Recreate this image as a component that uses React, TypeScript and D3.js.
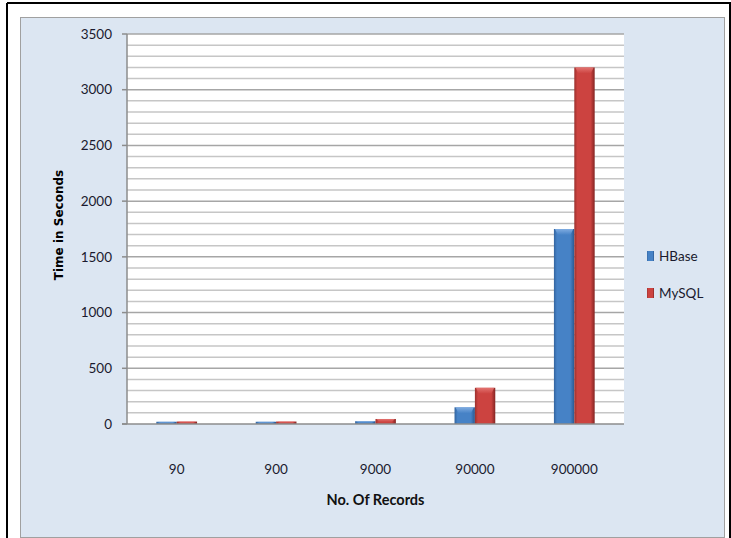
import { useEffect, useRef } from "react";
import * as d3 from "d3";

// data
const categories = ["90", "900", "9000", "90000", "900000"];
const hbase = [20, 20, 25, 150, 1750];
const mysql = [22, 22, 45, 325, 3200];
const seriesNames = ["HBase", "MySQL"];
const yTicks = [0, 500, 1000, 1500, 2000, 2500, 3000, 3500];

const W = 731;
const H = 538;

export default function App() {
  const svgRef = useRef<SVGSVGElement>(null);

  useEffect(() => {
    if (!svgRef.current) return;
    const svg = d3.select(svgRef.current);
    svg.selectAll("*").remove();

    const plot = { left: 127, right: 624, top: 34, bottom: 424 };

    // outer black frame (page cut)
    svg.append("line").attr("x1", 7).attr("x2", 731).attr("y1", 3).attr("y2", 3)
      .attr("stroke", "#000").attr("stroke-width", 2);
    svg.append("line").attr("x1", 7).attr("x2", 7).attr("y1", 3).attr("y2", H)
      .attr("stroke", "#000").attr("stroke-width", 2);
    svg.append("line").attr("x1", 730).attr("x2", 730).attr("y1", 3).attr("y2", H)
      .attr("stroke", "#000").attr("stroke-width", 2);

    // chart panel
    svg.append("rect")
      .attr("x", 20.5).attr("y", 17.5).attr("width", 704).attr("height", 520)
      .attr("fill", "#dce6f2").attr("stroke", "#a0a0a0").attr("stroke-width", 1);

    const y = d3.scaleLinear().domain([0, 3500]).range([plot.bottom, plot.top]);
    const x0 = d3.scaleBand<string>()
      .domain(categories)
      .range([plot.left, plot.right])
      .paddingInner(0.59)
      .paddingOuter(0.295);
    const x1 = d3.scaleBand<string>()
      .domain(seriesNames)
      .range([0, x0.bandwidth()]);

    // plot wall
    svg.append("rect")
      .attr("x", plot.left).attr("y", plot.top)
      .attr("width", plot.right - plot.left).attr("height", plot.bottom - plot.top)
      .attr("fill", "#ffffff");

    // gridlines: minor every 100, major every 500
    const minor = d3.range(100, 3600, 100).filter((v) => v % 500 !== 0);
    svg.append("g").selectAll("line").data(minor).join("line")
      .attr("x1", plot.left).attr("x2", plot.right)
      .attr("y1", (d) => y(d)).attr("y2", (d) => y(d))
      .attr("stroke", "#c6c6c6").attr("stroke-width", 1.5);
    svg.append("g").selectAll("line").data(yTicks.filter((v) => v > 0)).join("line")
      .attr("x1", plot.left).attr("x2", plot.right)
      .attr("y1", (d) => y(d)).attr("y2", (d) => y(d))
      .attr("stroke", "#a6a6a6").attr("stroke-width", 1.5);

    // gradients for the bevelled bars
    const defs = svg.append("defs");
    const makeGrad = (id: string, edge: string, mid: string, edge2: string) => {
      const g = defs.append("linearGradient").attr("id", id)
        .attr("x1", "0%").attr("x2", "100%").attr("y1", "0%").attr("y2", "0%");
      g.append("stop").attr("offset", "0%").attr("stop-color", edge);
      g.append("stop").attr("offset", "15%").attr("stop-color", mid);
      g.append("stop").attr("offset", "80%").attr("stop-color", mid);
      g.append("stop").attr("offset", "100%").attr("stop-color", edge2);
    };
    makeGrad("grad-HBase", "#33649f", "#4682c6", "#2b5890");
    makeGrad("grad-MySQL", "#9a302d", "#cc4340", "#852523");
    const makeTop = (id: string, light: string, base: string) => {
      const g = defs.append("linearGradient").attr("id", id)
        .attr("x1", "0%").attr("x2", "0%").attr("y1", "0%").attr("y2", "100%");
      g.append("stop").attr("offset", "0%").attr("stop-color", light);
      g.append("stop").attr("offset", "100%").attr("stop-color", base);
    };
    makeTop("top-HBase", "#8ab4e6", "#4682c6");
    makeTop("top-MySQL", "#e77c79", "#cc4340");

    const rows = categories.map((c, i) => ({ cat: c, vals: [hbase[i], mysql[i]] }));

    const groups = svg.append("g").selectAll("g").data(rows).join("g")
      .attr("transform", (d) => `translate(${x0(d.cat)},0)`);

    groups.each(function (row) {
      const g = d3.select(this);
      row.vals.forEach((v, k) => {
        const name = seriesNames[k];
        const bx = x1(name)!;
        const bw = x1.bandwidth();
        const top = y(v);
        const h = plot.bottom - top;
        g.append("rect")
          .attr("x", bx).attr("y", top).attr("width", bw).attr("height", h)
          .attr("fill", `url(#grad-${name})`);
        // top bevel, a soft trapezoid
        const bh = Math.min(6, h * 0.6);
        g.append("path")
          .attr("d", `M${bx + 1},${top} L${bx + bw - 1},${top} L${bx + bw - 4},${top + bh} L${bx + 4},${top + bh} Z`)
          .attr("fill", `url(#top-${name})`)
          .attr("opacity", 0.85);
      });
    });

    // axes lines
    svg.append("line")
      .attr("x1", plot.left).attr("x2", plot.left).attr("y1", plot.top).attr("y2", plot.bottom)
      .attr("stroke", "#8c8c8c").attr("stroke-width", 1.5);
    svg.append("line")
      .attr("x1", plot.left - 5).attr("x2", plot.right).attr("y1", plot.bottom).attr("y2", plot.bottom)
      .attr("stroke", "#8c8c8c").attr("stroke-width", 1.5);

    // y ticks + labels
    const yAxis = svg.append("g");
    yAxis.selectAll("line").data(yTicks).join("line")
      .attr("x1", plot.left - 5).attr("x2", plot.left)
      .attr("y1", (d) => y(d)).attr("y2", (d) => y(d))
      .attr("stroke", "#8c8c8c").attr("stroke-width", 1.5);
    yAxis.selectAll("text").data(yTicks).join("text")
      .attr("x", 112).attr("y", (d) => y(d))
      .attr("dy", "0.35em")
      .attr("text-anchor", "end")
      .attr("font-family", "Lato, sans-serif")
      .attr("font-size", 13.5)
      .attr("fill", "#1a1a2e")
      .text((d) => String(d));

    // x labels
    svg.append("g").selectAll("text").data(categories).join("text")
      .attr("x", (d) => x0(d)! + x0.bandwidth() / 2)
      .attr("y", 469)
      .attr("dy", "0.35em")
      .attr("text-anchor", "middle")
      .attr("font-family", "Lato, sans-serif")
      .attr("font-size", 13.5)
      .attr("fill", "#1a1a2e")
      .text((d) => d);

    // axis titles
    svg.append("text")
      .attr("x", (plot.left + plot.right) / 2).attr("y", 500)
      .attr("dy", "0.35em")
      .attr("text-anchor", "middle")
      .attr("font-family", "Lato, sans-serif")
      .attr("font-size", 14.5)
      .attr("font-weight", "bold")
      .attr("fill", "#111")
      .text("No. Of Records");
    svg.append("text")
      .attr("transform", `translate(59,225) rotate(-90)`)
      .attr("dy", "0.35em")
      .attr("text-anchor", "middle")
      .attr("font-family", "DejaVu Sans, sans-serif")
      .attr("font-size", 12)
      .attr("font-weight", "bold")
      .attr("fill", "#000")
      .text("Time in Seconds");

    // legend
    const legend = svg.append("g").selectAll("g").data(seriesNames).join("g")
      .attr("transform", (_d, i) => `translate(647,${256 + i * 37})`);
    legend.append("rect")
      .attr("x", 0).attr("y", -5).attr("width", 7).attr("height", 10)
      .attr("fill", (d) => `url(#grad-${d})`);
    legend.append("text")
      .attr("x", 12).attr("y", 0).attr("dy", "0.35em")
      .attr("font-family", "Lato, sans-serif")
      .attr("font-size", 13.5)
      .attr("fill", "#1a1a2e")
      .text((d) => d);
  }, []);

  return (
    <svg
      ref={svgRef}
      width={W}
      height={H}
      style={{ position: "fixed", left: 0, top: 0, background: "#ffffff" }}
    />
  );
}
